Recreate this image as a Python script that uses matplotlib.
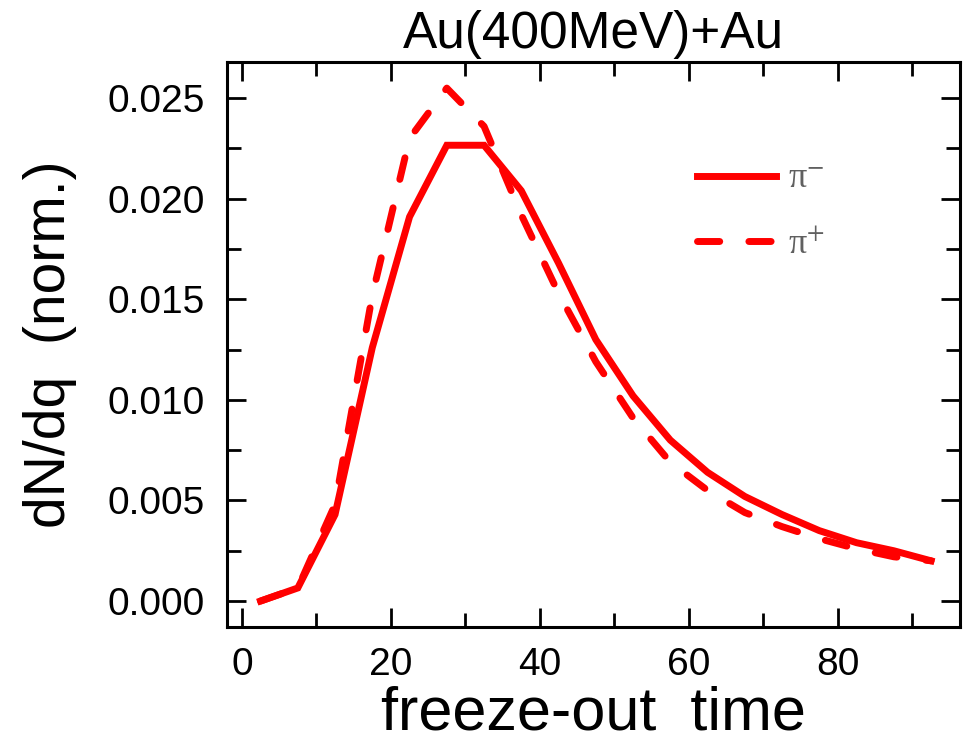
import matplotlib
matplotlib.use("Agg")
import matplotlib.pyplot as plt
from matplotlib.ticker import MultipleLocator

# freeze-out time bins and normalised distributions
time = [2.5, 7.5, 12.5, 17.5, 22.5, 27.5, 32.5, 37.5, 42.5, 47.5,
        52.5, 57.5, 62.5, 67.5, 72.5, 77.5, 82.5, 87.5, 92.5]
pi_minus = [0.0000, 0.00065, 0.0043, 0.0126, 0.0191, 0.02266, 0.02266, 0.0204, 0.0168, 0.0130,
            0.0102, 0.0080, 0.0064, 0.0052, 0.0043, 0.0035, 0.0029, 0.0025, 0.0020]
pi_plus = [0.0000, 0.00065, 0.0048, 0.0152, 0.0230, 0.0255, 0.0236, 0.0192, 0.0153, 0.0119,
           0.0091, 0.0069, 0.0055, 0.0044, 0.0037, 0.0031, 0.0026, 0.0022, 0.0020]

plt.rcParams['font.family'] = ['Liberation Sans', 'DejaVu Sans']
plt.rcParams['mathtext.fontset'] = 'stix'

fig = plt.figure(figsize=(9.71, 7.44), dpi=100)
ax = fig.add_axes([0.2338, 0.157, 0.755, 0.7597])

ax.plot(time, pi_minus, color='#ff0000', lw=5, solid_joinstyle='miter', label='π$^{-}$')
ax.plot(time, pi_plus, color='#ff0000', lw=5, linestyle=(0, (3.2, 4.2)),
        dash_capstyle='round', label='π$^{+}$')

ax.set_xlim(-2, 96.4)
ax.set_ylim(-0.0013, 0.0268)

ax.xaxis.set_major_locator(MultipleLocator(20))
ax.xaxis.set_minor_locator(MultipleLocator(10))
ax.yaxis.set_major_locator(MultipleLocator(0.005))
ax.yaxis.set_minor_locator(MultipleLocator(0.0025))
ax.yaxis.set_major_formatter(plt.FormatStrFormatter('%.3f'))

ax.tick_params(which='both', direction='in', top=True, right=True, width=2, labelsize=28)
ax.tick_params(which='major', length=14)
ax.tick_params(which='minor', length=10)
ax.tick_params(axis='y', pad=16)
ax.tick_params(axis='x', pad=14)
for s in ax.spines.values():
    s.set_linewidth(2.2)

ax.set_xlabel('freeze-out  time', fontsize=44, labelpad=2)
ax.set_ylabel('dN/dq  (norm.)', fontsize=41, labelpad=22)
ax.set_title('Au(400MeV)+Au', fontsize=37, pad=10)

leg = ax.legend(loc='upper left', bbox_to_anchor=(0.597, 0.879), frameon=False,
                prop={'family': 'Liberation Serif', 'size': 26},
                handlelength=2.17, handletextpad=0.35, labelspacing=0.9)
for t in leg.get_texts():
    t.set_color('#606060')

fig.savefig('out.png', dpi=100)
